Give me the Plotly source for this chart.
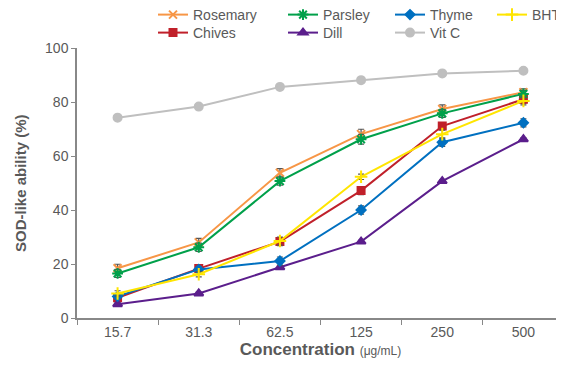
import plotly.graph_objects as go

concentrations = ["15.7", "31.3", "62.5", "125", "250", "500"]

rosemary = [18.4, 28.0, 53.8, 68.1, 77.4, 83.6]
parsley = [16.5, 26.2, 50.7, 66.2, 75.8, 83.0]
thyme = [8.0, 18.0, 21.1, 40.0, 65.1, 72.3]
bht = [9.1, 16.2, 28.5, 52.3, 68.1, 80.4]
chives = [7.5, 18.3, 28.3, 47.2, 71.1, 81.0]
dill = [5.1, 9.1, 18.8, 28.3, 50.7, 66.2]
vitc = [74.2, 78.3, 85.6, 88.1, 90.6, 91.6]

rosemary_err = [1.5, 1.5, 1.5, 1.8, 1.5, 1.3]
parsley_err = [1.5, 1.5, 1.5, 1.8, 1.5, 1.3]
thyme_err = [1.0, 1.0, 1.5, 1.5, 1.5, 1.5]
bht_err = [1.0, 1.0, 1.5, 1.0, 1.5, 1.5]
chives_err = [1.0, 1.5, 1.5, 1.5, 1.0, 1.5]
dill_err = [0.5, 0.5, 0.5, 0.5, 0.5, 0.5]
vitc_err = [0, 0, 0, 0, 0, 0]

# legend grid: (column left px, row)
series = [
    ("Rosemary", rosemary, rosemary_err, "#F79646", "x-thin-open", 8, 145, 0),
    ("Chives", chives, chives_err, "#C0202A", "square", 7, 145, 1),
    ("Parsley", parsley, parsley_err, "#00A04A", "asterisk-open", 9, 275, 0),
    ("Dill", dill, dill_err, "#5B1E8C", "triangle-up", 8, 275, 1),
    ("Thyme", thyme, thyme_err, "#0070C0", "diamond", 7, 382, 0),
    ("Vit C", vitc, vitc_err, "#BFBFBF", "circle", 8, 382, 1),
    ("BHT", bht, bht_err, "#FFE500", "cross-thin-open", 9, 484, 0),
]

FONT = "Liberation Sans, Arial, sans-serif"
TXT = "#595959"
FW, FH = 556, 358
ROW_Y = [7, 25]

fig = go.Figure()
legends = {}
for i, (name, vals, err, color, sym, size, lx, row) in enumerate(series):
    lg = "legend" if i == 0 else "legend%d" % (i + 1)
    legends[lg] = dict(
        orientation="v", xref="container", yref="container",
        x=lx / FW, xanchor="left", y=1 - ROW_Y[row] / FH, yanchor="middle",
        bgcolor="rgba(0,0,0,0)", borderwidth=0,
        font=dict(family=FONT, size=14, color=TXT),
        itemwidth=30,
    )
    fig.add_trace(go.Scatter(
        x=concentrations, y=vals, name=name, legend=lg,
        mode="lines+markers",
        line=dict(color=color, width=2),
        marker=dict(symbol=sym, size=size, color=color,
                    line=dict(color=color, width=2)),
        error_y=dict(type="data", array=err, visible=True,
                     color="#555555", thickness=1.2, width=3),
    ))

fig.update_layout(
    width=FW, height=FH,
    margin=dict(l=69, r=0, t=40, b=48, autoexpand=False),
    paper_bgcolor="white", plot_bgcolor="white",
    font=dict(family=FONT, size=14, color=TXT),
    showlegend=True,
    xaxis=dict(
        type="category", range=[-0.5, 5.5],
        showline=True, linecolor="#888888", linewidth=1.5,
        ticks="outside", ticklen=5, tickcolor="#888888",
        tickson="boundaries", showgrid=False, zeroline=False,
        tickfont=dict(family=FONT, size=14, color=TXT),
        title=dict(text="<b>Concentration</b> <span style='font-size:12px'>(μg/mL)</span>",
                   font=dict(family=FONT, size=17, color=TXT), standoff=4),
    ),
    yaxis=dict(
        range=[0, 100], dtick=20,
        showline=True, linecolor="#888888", linewidth=1.5,
        ticks="outside", ticklen=4, tickcolor="#888888",
        showgrid=False, zeroline=False,
        tickfont=dict(family=FONT, size=14, color=TXT),
    ),
    annotations=[dict(
        text="<b>SOD-like ability (%)</b>", textangle=-90,
        xref="paper", yref="paper", x=0, y=0.5, xshift=-57,
        xanchor="center", yanchor="middle", showarrow=False,
        font=dict(family=FONT, size=15, color=TXT),
    )],
)
fig.update_layout(**legends)

fig.write_html("out.html")
